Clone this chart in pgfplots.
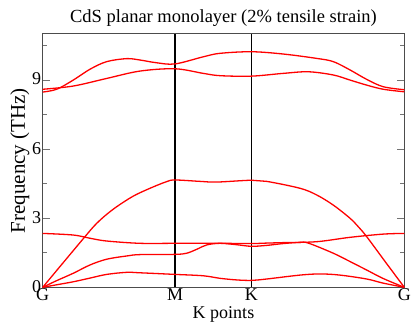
\documentclass[border=0pt]{standalone}
\usepackage{fontspec}
\setmainfont{Liberation Serif}
\usepackage{pgfplots}
\pgfplotsset{compat=1.18}

% k-path: G(0) - M(0.5774) - K(0.9107) - G(1.5774)
\begin{document}
\begin{tikzpicture}
\begin{axis}[
  name=ax, scale only axis, width=361.6pt, height=253.3pt,
  xmin=0, xmax=1.5774, ymin=0, ymax=11,
  xtick={0,0.5774,0.9107,1.5774}, xticklabels={G,M,K,G},
  ytick={0,3,6,9}, minor ytick={1.5,4.5,7.5,10.5},
  tick align=inside, major tick length=7pt, minor tick length=4pt,
  x tick style={draw=none},
  y tick style={black!55, line width=0.8pt},
  axis line style={black!70, line width=1pt},
  title={CdS planar monolayer (2\% tensile strain)},
  title style={font=\fontsize{18.5}{18.5}\selectfont, yshift=-2pt},
  xlabel={K points}, ylabel={Frequency (THz)},
  xlabel style={font=\fontsize{18}{18}\selectfont, yshift=1pt},
  ylabel style={font=\fontsize{21}{21}\selectfont, yshift=-4pt},
  tick label style={font=\fontsize{18}{18}\selectfont},
  xticklabel style={yshift=2pt},
  yticklabel style={xshift=2pt, yshift=1pt},
  /pgf/number format/assume math mode=true,
  br/.style={red, line width=1.3pt, smooth, tension=0.55, no markers},
]
% M and K markers
\addplot[black, line width=1.3pt, no markers] coordinates {(0.5774,0) (0.5774,11)};
\addplot[black, line width=1.3pt, no markers] coordinates {(0.9107,0) (0.9107,11)};
% ZA
\addplot[br] coordinates {(0,0) (0.0611,0.11) (0.1335,0.24) (0.2063,0.40) (0.2792,0.56) (0.3664,0.65) (0.4244,0.63) (0.5774,0.56) (0.7005,0.50) (0.7734,0.39) (0.8462,0.32) (0.9107,0.30) (0.9771,0.36) (1.1224,0.53) (1.2096,0.58) (1.2968,0.53) (1.4133,0.36) (1.4857,0.18) (1.5774,0)};
% TA
\addplot[br] coordinates {(0,0) (0.0611,0.29) (0.1335,0.61) (0.2063,0.97) (0.2792,1.22) (0.3664,1.36) (0.4244,1.42) (0.5774,1.43) (0.6281,1.48) (0.6718,1.65) (0.7154,1.84) (0.7734,1.91) (0.8462,1.85) (0.9107,1.78) (0.9771,1.82) (1.0495,1.90) (1.1224,1.95) (1.1586,1.92) (1.2676,1.48) (1.3404,1.12) (1.4133,0.75) (1.4857,0.38) (1.5774,0)};
% LA
\addplot[br] coordinates {(0,0) (0.0920,1.10) (0.1845,2.20) (0.2280,2.70) (0.2710,3.10) (0.3228,3.50) (0.3952,3.96) (0.4680,4.30) (0.5409,4.59) (0.5774,4.66) (0.6861,4.60) (0.7590,4.57) (0.9107,4.65) (0.9771,4.60) (1.1224,4.30) (1.1952,4.01) (1.2676,3.57) (1.3404,3.00) (1.3767,2.63) (1.4133,2.20) (1.4950,1.10) (1.5774,0)};
% ZO
\addplot[br] coordinates {(0,2.34) (0.1335,2.27) (0.2063,2.13) (0.2792,2.01) (0.4244,1.91) (0.5774,1.91) (0.7734,1.91) (0.9107,1.90) (0.9771,1.92) (1.0495,1.94) (1.1952,1.98) (1.3404,2.17) (1.4857,2.31) (1.5774,2.34)};
% optical, upper
\addplot[br] coordinates {(0,8.48) (0.0611,8.60) (0.1335,9.00) (0.2063,9.47) (0.2792,9.80) (0.3664,9.93) (0.4244,9.87) (0.4973,9.75) (0.5774,9.70) (0.7005,10.01) (0.7734,10.16) (0.9107,10.23) (1.0495,10.13) (1.1952,9.94) (1.2676,9.80) (1.3404,9.44) (1.4133,9.03) (1.4857,8.71) (1.5774,8.58)};
% optical, lower
\addplot[br] coordinates {(0,8.60) (0.1335,8.74) (0.2792,9.07) (0.4244,9.39) (0.5774,9.49) (0.7005,9.29) (0.7734,9.19) (0.9107,9.17) (1.0495,9.29) (1.1586,9.36) (1.2676,9.22) (1.3404,9.00) (1.4133,8.78) (1.4857,8.60) (1.5774,8.49)};
\end{axis}
\pgfresetboundingbox
\path[use as bounding box] ([shift={(-42.7pt,-41.7pt)}]ax.south west) rectangle ([shift={(10.7pt,34pt)}]ax.north east);
\end{tikzpicture}
\end{document}
